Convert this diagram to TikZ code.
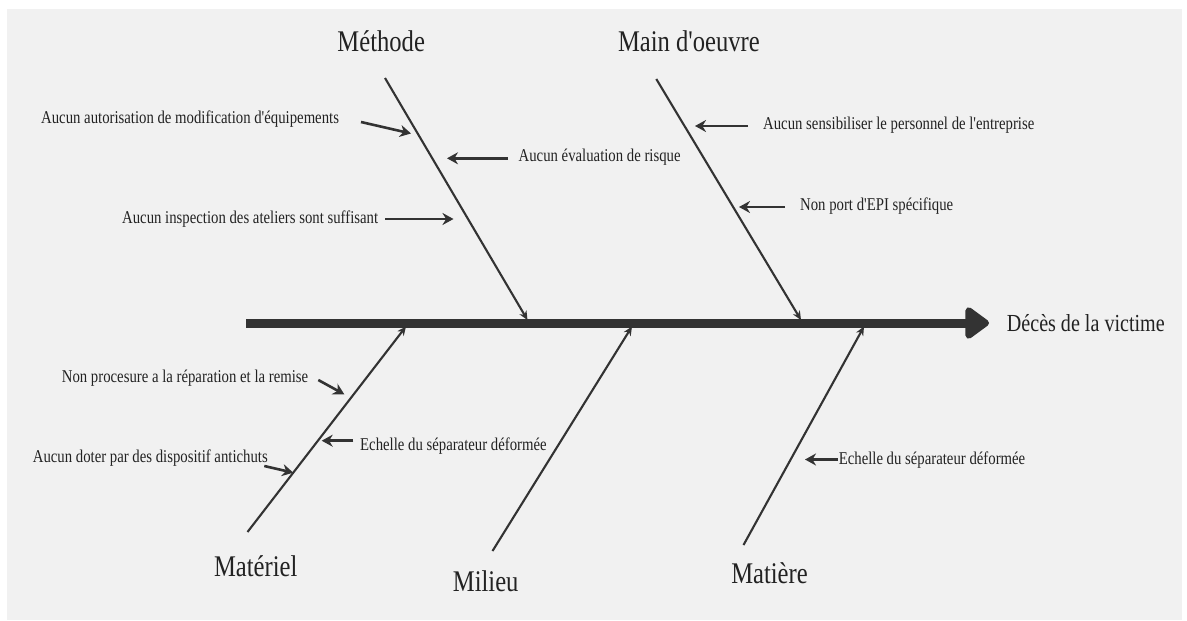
\documentclass[tikz,border=0pt]{standalone}
\usepackage{fontspec}
\setmainfont{Liberation Serif}[FakeStretch=0.82, Ligatures=TeXOff]
\usetikzlibrary{arrows.meta}
\definecolor{ink}{HTML}{333333}
\definecolor{txt}{HTML}{222222}
\definecolor{panel}{HTML}{F1F1F1}
\begin{document}
\begin{tikzpicture}[x=1pt,y=-1pt,
  cat/.style={anchor=base, inner sep=0pt, text=txt, font=\fontsize{30}{35}\selectfont},
  effect/.style={anchor=base west, inner sep=0pt, text=txt, font=\fontsize{24.5}{29}\selectfont},
  cause/.style={anchor=base west, inner sep=0pt, text=txt, font=\fontsize{18}{22}\selectfont},
  bone/.style={draw=ink, line width=2.1pt, -{Stealth[length=9pt,width=8pt]}},
  sub/.style={draw=ink, line width=2.6pt, -{Stealth[length=11pt,width=12pt]}},
  spine/.style={draw=ink, line width=9pt, -{Triangle[length=26pt,width=36pt,round]}},
]
\useasboundingbox (0,0) rectangle (1187,621);
\fill[white] (0,0) rectangle (1187,621);
\fill[panel] (7,9) rectangle (1182,620);

% spine
\coordinate (tail) at (246,323);
\node[effect] (eff) at (1006.7,331.7) {Décès de la victime};
\coordinate (head) at (989,323);
\draw[spine] (tail) -- (head);

% category labels
\node[cat] (meth) at (381.2,51.7) {Méthode};
\node[cat] (mo) at (688.9,51.7) {Main d'oeuvre};
\node[cat] (mat) at (255.7,576) {Matériel};
\node[cat] (mil) at (485.7,591.7) {Milieu};
\node[cat] (mtr) at (769.5,583.3) {Matière};

% bones
\coordinate (b1a) at (385,78);   \coordinate (b1b) at (527.5,320);
\coordinate (b2a) at (656.3,79); \coordinate (b2b) at (801,320);
\coordinate (b3a) at (247.5,532); \coordinate (b3b) at (406,326.5);
\coordinate (b4a) at (492.5,551); \coordinate (b4b) at (632,326.5);
\coordinate (b5a) at (743.5,545); \coordinate (b5b) at (864,326.5);
\draw[bone] (b1a) -- (b1b);
\draw[bone] (b2a) -- (b2b);
\draw[bone] (b3a) -- (b3b);
\draw[bone] (b4a) -- (b4b);
\draw[bone] (b5a) -- (b5b);

% causes
\node[cause] (t1) at (41,123) {Aucun autorisation de modification d'équipements};
\node[cause] (t2) at (518.5,161) {Aucun évaluation de risque};
\node[cause] (t3) at (122,223.5) {Aucun inspection des ateliers sont suffisant};
\node[cause] (t4) at (763,129.3) {Aucun sensibiliser le personnel de l'entreprise};
\node[cause] (t5) at (800,210.7) {Non port d'EPI spécifique};
\node[cause] (t6) at (61.7,382.7) {Non procesure a la réparation et la remise};
\node[cause] (t7) at (360,450.7) {Echelle du séparateur déformée};
\node[cause] (t8) at (32.7,462) {Aucun doter par des dispositif antichuts};
\node[cause] (t9) at (838.6,464.5) {Echelle du séparateur déformée};

% cause arrows
\coordinate (s1) at (361,122);   \coordinate (e1) at (411,133.5);
\coordinate (s2) at (508,158.3); \coordinate (e2) at (447,158.3);
\coordinate (s3) at (385,219);   \coordinate (e3) at (453.5,219);
\coordinate (s4) at (748,126);   \coordinate (e4) at (695,126);
\coordinate (s5) at (785,207);   \coordinate (e5) at (739,207);
\coordinate (s6) at (318.3,380); \coordinate (e6) at (344.3,394.3);
\coordinate (s7) at (353.3,440.7); \coordinate (e7) at (321.7,440.7);
\coordinate (s8) at (264.3,466); \coordinate (e8) at (293.3,472.7);
\coordinate (s9) at (838,459.5); \coordinate (e9) at (805,459.5);
\foreach \i in {1,...,9}{\draw[sub] (s\i) -- (e\i);}
\end{tikzpicture}
\end{document}
